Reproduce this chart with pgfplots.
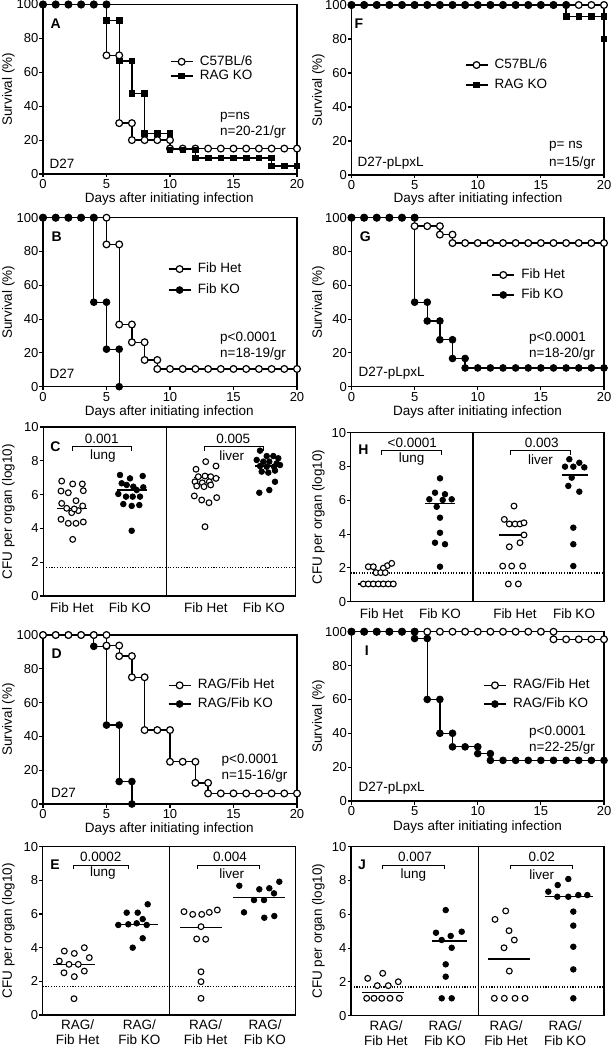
\documentclass[border=0pt]{standalone}
\usepackage{fontspec}
\setmainfont{Liberation Sans}
\usepackage{pgfplots}
\pgfplotsset{compat=1.18}
\newcommand\lab{\fontsize{13.5}{15}\selectfont}
\newcommand\tk{\fontsize{13}{14}\selectfont}
\newcommand\pl{\fontsize{14}{15}\selectfont\bfseries}
\pgfplotsset{
  base/.style={scale only axis, clip=false, anchor=south west,
    axis line style={line width=1.3pt},
    every tick/.style={black, line width=1.1pt},
    tick align=outside, major tick length=3.5pt,
    xtick pos=left, ytick pos=left,
    /pgf/number format/assume math mode=true,
    tick label style={font=\tk},
    yticklabel style={inner sep=1pt},
    xticklabel style={inner sep=2pt},
    legend cell align=left,
    legend style={draw=none, fill=none, inner sep=0pt, outer sep=0pt, font=\lab,
      column sep=6pt, nodes={inner sep=0.5pt, text height=10pt, text depth=3.3pt}},
    legend image code/.code={\draw[##1, mark repeat=2, mark phase=2] plot coordinates {(0pt,0pt) (11pt,0pt) (22pt,0pt)};},
  },
  surv/.style={base, xmin=0, xmax=20, ymin=0, ymax=100,
    xtick={0,5,10,15,20}, ytick={0,20,40,60,80,100}},
  cfu/.style={base, ymin=0, ymax=10, ytick={0,2,4,6,8,10},
    xtick style={draw=none}},
  cfuone/.style={cfu, xticklabel style={font=\lab, inner sep=0pt, text height=10pt, yshift=-3pt}},
  cfutwo/.style={cfu, xticklabel style={font=\fontsize{13.5}{14.5}\selectfont, align=center, inner sep=0pt, yshift=-1.5pt}},
  opn/.style={black, line width=1.3pt, mark=*, mark size=3.4pt, mark options={fill=white, line width=1.2pt}},
  fil/.style={black, line width=1.3pt, mark=*, mark size=3.4pt, mark options={fill=black, line width=0.8pt}},
  sqr/.style={black, line width=1.3pt, mark=square*, mark size=2.8pt, mark options={fill=black, line width=0.8pt}},
  opc/.style={only marks, mark=*, mark size=2.9pt, mark options={fill=white, draw=black, line width=1.1pt}},
  fic/.style={only marks, mark=*, mark size=2.8pt, mark options={fill=black, draw=black, line width=0.8pt}},
  med/.style={black, line width=1.4pt, forget plot},
  lod/.style={black, line width=1.2pt, dash pattern=on 1.1pt off 1.6pt, forget plot},
  divd/.style={black, line width=1.3pt, forget plot},
}
\begin{document}
\begin{tikzpicture}
\useasboundingbox (0pt,0pt) rectangle (611pt,-1048pt);

% ---------------- A ----------------
\begin{axis}[surv, at={(43pt,-174pt)}, width=254pt, height=169.5pt,
  legend style={at={(axis description cs:0.5,0.62)}, anchor=west, row sep=0pt}]
\addplot[opn] coordinates {(0,100)(1,100)(2,100)(3,100)(4,100)(5,100)(5,70)(6,70)(6,30)(7,30)(7,20)(8,20)(9,20)(10,20)(10,15)(11,15)(12,15)(13,15)(14,15)(15,15)(16,15)(17,15)(18,15)(19,15)(20,15)};
\addlegendentry{C57BL/6}
\addplot[sqr, mark repeat=1, mark phase=7] coordinates {(0,100)(1,100)(2,100)(3,100)(4,100)(5,100)(5,90.5)(6,90.5)(6,66.7)(7,66.7)(7,47.6)(8,47.6)(8,23.8)(9,23.8)(10,23.8)(10,14.3)(11,14.3)(12,14.3)(12,9.5)(13,9.5)(14,9.5)(15,9.5)(16,9.5)(17,9.5)(18,9.5)(18,4.8)(19,4.8)(20,4.8)};
\addlegendentry{RAG KO}
\addplot[fil, only marks, forget plot] coordinates {(0,100)(1,100)(2,100)(3,100)(4,100)(5,100)};
\end{axis}

% ---------------- F ----------------
\begin{axis}[surv, at={(351.5pt,-175pt)}, width=252.5pt, height=170pt,
  legend style={at={(axis description cs:0.449,0.588)}, anchor=west, row sep=5.7pt}]
\addplot[opn] coordinates {(0,100)(1,100)(2,100)(3,100)(4,100)(5,100)(6,100)(7,100)(8,100)(9,100)(10,100)(11,100)(12,100)(13,100)(14,100)(15,100)(16,100)(17,100)(18,100)(19,100)(20,100)};
\addlegendentry{C57BL/6}
\addplot[sqr, mark repeat=1, mark phase=19] coordinates {(0,100)(1,100)(2,100)(3,100)(4,100)(5,100)(6,100)(7,100)(8,100)(9,100)(10,100)(11,100)(12,100)(13,100)(14,100)(15,100)(16,100)(17,100)(17,93.3)(18,93.3)(19,93.3)(20,93.3)(20,80)};
\addlegendentry{RAG KO}
\addplot[fil, only marks, forget plot] coordinates {(0,100)(1,100)(2,100)(3,100)(4,100)(5,100)(6,100)(7,100)(8,100)(9,100)(10,100)(11,100)(12,100)(13,100)(14,100)(15,100)(16,100)(17,100)};
\end{axis}

% ---------------- B ----------------
\begin{axis}[surv, at={(43pt,-386.7pt)}, width=254pt, height=169pt,
  legend style={at={(axis description cs:0.492,0.634)}, anchor=west, row sep=6.7pt}]
\addplot[opn] coordinates {(0,100)(1,100)(2,100)(3,100)(4,100)(5,100)(5,84.2)(6,84.2)(6,36.8)(7,36.8)(7,26.3)(8,26.3)(8,15.8)(9,15.8)(9,10.5)(10,10.5)(11,10.5)(12,10.5)(13,10.5)(14,10.5)(15,10.5)(16,10.5)(17,10.5)(18,10.5)(19,10.5)(20,10.5)};
\addlegendentry{Fib Het}
\addplot[fil] coordinates {(0,100)(1,100)(2,100)(3,100)(4,100)(4,50)(5,50)(5,22.2)(6,22.2)(6,0)};
\addlegendentry{Fib KO}
\end{axis}

% ---------------- G ----------------
\begin{axis}[surv, at={(351.5pt,-386.7pt)}, width=252.5pt, height=169pt,
  legend style={at={(axis description cs:0.555,0.602)}, anchor=west, row sep=5.7pt}]
\addplot[opn] coordinates {(0,100)(1,100)(2,100)(3,100)(4,100)(5,100)(5,95)(6,95)(7,95)(7,90)(8,90)(8,85)(9,85)(10,85)(11,85)(12,85)(13,85)(14,85)(15,85)(16,85)(17,85)(18,85)(19,85)(20,85)};
\addlegendentry{Fib Het}
\addplot[fil] coordinates {(0,100)(1,100)(2,100)(3,100)(4,100)(5,100)(5,50)(6,50)(6,38.9)(7,38.9)(7,27.8)(8,27.8)(8,16.7)(9,16.7)(9,11.1)(10,11.1)(11,11.1)(12,11.1)(13,11.1)(14,11.1)(15,11.1)(16,11.1)(17,11.1)(18,11.1)(19,11.1)(20,11.1)};
\addlegendentry{Fib KO}
\end{axis}

% ---------------- D ----------------
\begin{axis}[surv, at={(43pt,-804pt)}, width=254pt, height=169pt, reverse legend,
  legend style={at={(axis description cs:0.492,0.647)}, anchor=west, row sep=4.4pt}]
\addplot[fil] coordinates {(0,100)(1,100)(2,100)(3,100)(4,100)(4,93.3)(5,93.3)(5,46.7)(6,46.7)(6,13.3)(7,13.3)(7,0)};
\addlegendentry{RAG/Fib KO}
\addplot[opn] coordinates {(0,100)(1,100)(2,100)(3,100)(4,100)(5,100)(5,93.75)(6,93.75)(6,87.5)(7,87.5)(7,75)(8,75)(8,43.75)(9,43.75)(10,43.75)(10,25)(11,25)(12,25)(12,12.5)(13,12.5)(13,6.25)(14,6.25)(15,6.25)(16,6.25)(17,6.25)(18,6.25)(19,6.25)(20,6.25)};
\addlegendentry{RAG/Fib Het}
\end{axis}

% ---------------- I ----------------
\begin{axis}[surv, at={(351.5pt,-801pt)}, width=252.5pt, height=169.3pt,
  legend style={at={(axis description cs:0.522,0.628)}, anchor=west, row sep=4.4pt}]
\addplot[opn] coordinates {(0,100)(1,100)(2,100)(3,100)(4,100)(5,100)(6,100)(7,100)(8,100)(9,100)(10,100)(11,100)(12,100)(13,100)(14,100)(15,100)(16,100)(16,95.5)(17,95.5)(18,95.5)(19,95.5)(20,95.5)};
\addlegendentry{RAG/Fib Het}
\addplot[fil] coordinates {(0,100)(1,100)(2,100)(3,100)(4,100)(5,100)(5,96)(6,96)(6,60)(7,60)(7,40)(8,40)(8,32)(9,32)(10,32)(10,28)(11,28)(11,24)(12,24)(13,24)(14,24)(15,24)(16,24)(17,24)(18,24)(19,24)(20,24)};
\addlegendentry{RAG/Fib KO}
\end{axis}

% ---------------- C ----------------
\begin{axis}[cfuone, at={(43.3pt,-596pt)}, width=252.4pt, height=169pt, xmin=0, xmax=252.4,
  xtick={28.7,86.7,162.7,220.7}, xticklabels={Fib Het,Fib KO,Fib Het,Fib KO}]
\addplot[lod] coordinates {(0,1.7)(252.4,1.7)};
\addplot[divd] coordinates {(123.4,0)(123.4,10)};
\addplot[med] coordinates {(13.4,5.19)(43.4,5.19)};
\addplot[med] coordinates {(73.4,6.27)(103.4,6.27)};
\addplot[med] coordinates {(150.7,7.0)(176.7,7.0)};
\addplot[med] coordinates {(211.7,7.69)(236.7,7.69)};
\addplot[opc] coordinates {(18.4,6.80)(29.4,6.63)(39.0,6.63)(17.7,6.21)(25.0,6.11)(40.0,6.23)(32.7,5.64)(18.4,5.48)(39.4,5.33)(23.4,5.19)(28.4,4.93)(35.0,5.05)(17.7,4.54)(25.0,4.30)(32.7,4.30)(40.0,4.38)(29.4,3.35)(31.0,5.15)};
\addplot[fic] coordinates {(76.7,7.16)(86.7,6.96)(99.4,7.10)(78.4,6.67)(83.4,6.57)(90.0,6.47)(93.4,6.27)(100.0,6.43)(75.0,6.04)(82.7,5.88)(89.4,5.88)(96.7,5.88)(80.0,5.44)(88.4,5.33)(96.0,5.38)(88.4,3.86)};
\addplot[opc] coordinates {(152.7,7.50)(162.4,7.95)(172.7,7.69)(155.0,7.06)(161.7,7.10)(167.4,7.06)(172.7,6.96)(151.7,6.76)(159.0,6.70)(166.0,6.76)(153.4,6.51)(160.7,6.47)(167.4,6.57)(151.0,5.92)(158.4,5.68)(165.7,5.52)(173.4,5.82)(161.7,4.10)};
\addplot[fic] coordinates {(216.7,8.60)(223.4,8.28)(230.0,8.28)(235.0,8.15)(213.4,8.05)(220.0,7.95)(226.0,7.95)(233.4,7.85)(216.7,7.69)(223.4,7.65)(230.7,7.65)(236.7,7.75)(218.4,7.36)(225.0,7.30)(231.7,7.42)(216.0,6.11)(226.0,6.27)(231.7,6.76)};
\end{axis}

% ---------------- H ----------------
\begin{axis}[cfuone, at={(350.7pt,-601.7pt)}, width=253.3pt, height=169pt, xmin=0, xmax=253.3,
  xtick={31,89.3,164.3,223.3}, xticklabels={Fib Het,Fib KO,Fib Het,Fib KO}]
\addplot[lod] coordinates {(0,1.7)(253.3,1.7)};
\addplot[divd] coordinates {(122.3,0)(122.3,10)};
\addplot[med] coordinates {(7.6,1.05)(44.3,1.05)};
\addplot[med] coordinates {(74.3,5.82)(104.3,5.82)};
\addplot[med] coordinates {(148.6,3.95)(176.0,3.95)};
\addplot[med] coordinates {(211.0,7.5)(237.6,7.5)};
\addplot[opc] coordinates {(17.6,2.07)(22.6,2.07)(36.6,2.13)(41.0,2.27)(32.6,1.98)(25.3,1.72)(30.0,1.72)(34.6,1.72)(12.6,1.05)(17.6,1.05)(22.6,1.05)(27.6,1.05)(32.6,1.05)(37.6,1.05)(42.6,1.05)};
\addplot[fic] coordinates {(89.3,7.30)(84.3,6.45)(78.6,6.06)(94.3,6.36)(101.0,6.06)(92.0,6.02)(86.0,5.62)(89.3,4.97)(89.3,4.08)(84.3,3.49)(94.3,3.40)(89.3,2.07)};
\addplot[opc] coordinates {(163.3,5.66)(153.6,4.87)(158.6,4.60)(164.3,4.60)(169.3,4.60)(173.3,4.67)(173.3,3.95)(169.3,3.49)(158.6,3.25)(152.0,2.11)(161.0,2.11)(172.0,2.11)(157.6,1.05)(167.6,1.05)};
\addplot[fic] coordinates {(218.6,8.43)(214.3,7.99)(222.6,7.99)(228.6,8.22)(233.6,7.95)(221.0,7.34)(217.6,6.85)(228.6,6.51)(222.6,4.38)(222.6,3.40)(222.6,2.11)};
\end{axis}

% ---------------- E ----------------
\begin{axis}[cfutwo, at={(42.7pt,-1015pt)}, width=253pt, height=168.3pt, xmin=0, xmax=253,
  xtick={35,96.6,163,222.3}, xticklabels={{RAG/\\Fib Het},{RAG/\\Fib KO},{RAG/\\Fib Het},{RAG/\\Fib KO}}]
\addplot[lod] coordinates {(0,1.7)(253,1.7)};
\addplot[divd] coordinates {(126.6,0)(126.6,10)};
\addplot[med] coordinates {(10.6,3.01)(52.3,3.01)};
\addplot[med] coordinates {(72.3,5.39)(115.6,5.39)};
\addplot[med] coordinates {(137.3,5.21)(179.0,5.21)};
\addplot[med] coordinates {(190.6,6.97)(242.3,6.97)};
\addplot[opc] coordinates {(21.6,3.80)(31.6,3.66)(41.6,4.00)(16.6,3.21)(26.3,3.01)(35.6,3.01)(46.6,3.41)(21.3,2.51)(31.6,2.28)(41.6,2.61)(31.3,0.97)};
\addplot[fic] coordinates {(84,6.08)(95,6.08)(105,6.58)(100,5.70)(75.6,5.35)(85.6,5.39)(94,5.45)(104,5.35)(100,4.56)(90,4.00)};
\addplot[opc] coordinates {(141.3,6.14)(150,5.98)(159,5.98)(166.6,6.10)(174.6,6.24)(158.3,5.25)(154,4.52)(163,4.50)(158.3,2.57)(158.3,1.98)(158.3,0.99)};
\addplot[fic] coordinates {(196.6,7.68)(216.6,7.47)(226.6,7.53)(236.6,7.92)(211.3,6.83)(231.3,7.23)(201.3,6.10)(221.6,5.78)(231.6,5.88)(221.3,6.83)};
\end{axis}

% ---------------- J ----------------
\begin{axis}[cfutwo, at={(351pt,-1015.7pt)}, width=253pt, height=169pt, xmin=0, xmax=253,
  xtick={35,94,155,214}, xticklabels={{RAG/\\Fib Het},{RAG/\\Fib KO},{RAG/\\Fib Het},{RAG/\\Fib KO}}]
\addplot[lod] coordinates {(0,1.7)(253,1.7)};
\addplot[divd] coordinates {(127.3,0)(127.3,10)};
\addplot[med] coordinates {(10.7,1.38)(53,1.38)};
\addplot[med] coordinates {(80.7,4.41)(115.7,4.41)};
\addplot[med] coordinates {(137.3,3.35)(179,3.35)};
\addplot[med] coordinates {(194,7.04)(242.3,7.04)};
\addplot[opc] coordinates {(16.7,2.21)(31.7,2.51)(26.3,1.78)(37.3,1.78)(47.3,2.01)(15.7,1.03)(23,1.03)(30.7,1.03)(39,1.03)(48.3,1.03)};
\addplot[fic] coordinates {(94.7,6.25)(85,4.91)(110.7,4.97)(99.7,4.72)(90.7,4.48)(100.7,4.02)(94.7,3.04)(94.7,2.31)(90.7,1.03)(100.7,1.03)};
\addplot[opc] coordinates {(154.7,6.20)(144,5.70)(158,5.03)(163.3,4.48)(153,4.02)(158.3,2.64)(143.3,1.03)(153.3,1.03)(164,1.03)(174,1.03)};
\addplot[fic] coordinates {(217.3,8.09)(206.7,7.73)(197.3,7.34)(206.3,7.04)(217.3,7.04)(227.3,7.14)(236.3,7.14)(222.3,6.16)(222.3,5.33)(222.3,4.08)(222.3,2.74)(222.3,1.03)};
\end{axis}

% ---------- axis titles ----------
\begin{scope}[every node/.style={font=\lab, inner sep=0pt}]
\node[rotate=90] at (8.3pt,-89.3pt) {Survival (\%)};
\node[rotate=90] at (318.3pt,-90pt) {Survival (\%)};
\node[rotate=90] at (8.3pt,-302.2pt) {Survival (\%)};
\node[rotate=90] at (318.3pt,-302.2pt) {Survival (\%)};
\node[rotate=90] at (8.3pt,-719.5pt) {Survival (\%)};
\node[rotate=90] at (318.3pt,-716.3pt) {Survival (\%)};
\node[rotate=90] at (8.3pt,-511.5pt) {CFU per organ (log10)};
\node[rotate=90] at (318.3pt,-517.2pt) {CFU per organ (log10)};
\node[rotate=90] at (8.3pt,-930.8pt) {CFU per organ (log10)};
\node[rotate=90] at (318.3pt,-931.2pt) {CFU per organ (log10)};
\node at (169.2pt,-199.5pt) {Days after initiating infection};
\node at (478pt,-199pt) {Days after initiating infection};
\node at (169.2pt,-412.5pt) {Days after initiating infection};
\node at (477.5pt,-412.5pt) {Days after initiating infection};
\node at (169.2pt,-829.5pt) {Days after initiating infection};
\node at (477.5pt,-827pt) {Days after initiating infection};
% annotations survival
\node[anchor=west] at (220pt,-117.3pt) {p=ns};
\node[anchor=west] at (220pt,-131.7pt) {n=20-21/gr};
\node[anchor=west] at (49.5pt,-163.3pt) {D27};
\node[anchor=west] at (549pt,-146.7pt) {p= ns};
\node[anchor=west] at (549pt,-163.3pt) {n=15/gr};
\node[anchor=west] at (357.5pt,-163.3pt) {D27-pLpxL};
\node[anchor=west] at (220pt,-337.7pt) {p<0.0001};
\node[anchor=west] at (220pt,-354.5pt) {n=18-19/gr};
\node[anchor=west] at (49.5pt,-374pt) {D27};
\node[anchor=west] at (529pt,-337.7pt) {p<0.0001};
\node[anchor=west] at (529pt,-354.3pt) {n=18-20/gr};
\node[anchor=west] at (358.5pt,-373.3pt) {D27-pLpxL};
\node[anchor=west] at (221.5pt,-760pt) {p<0.0001};
\node[anchor=west] at (221.5pt,-775.7pt) {n=15-16/gr};
\node[anchor=west] at (51pt,-792.3pt) {D27};
\node[anchor=west] at (529pt,-731.7pt) {p<0.0001};
\node[anchor=west] at (529pt,-748.3pt) {n=22-25/gr};
\node[anchor=west] at (358.5pt,-787.7pt) {D27-pLpxL};
% CFU annotations
\node at (101.7pt,-438.7pt) {0.001};
\node at (103pt,-456pt) {lung};
\node at (233.3pt,-438.7pt) {0.005};
\node at (231.7pt,-456pt) {liver};
\node at (412.3pt,-442.7pt) {<0.0001};
\node at (411.7pt,-459.3pt) {lung};
\node at (541.7pt,-442.7pt) {0.003};
\node at (540.6pt,-459.5pt) {liver};
\node at (100.8pt,-856.7pt) {0.0002};
\node at (103pt,-873.3pt) {lung};
\node at (230pt,-856.7pt) {0.004};
\node at (231.7pt,-873.3pt) {liver};
\node at (415pt,-857.3pt) {0.007};
\node at (413.3pt,-875pt) {lung};
\node at (541.7pt,-857.3pt) {0.02};
\node at (541.7pt,-875pt) {liver};
\end{scope}
% brackets
\begin{scope}[line width=0.9pt]
\draw (72.7pt,-450.7pt) -- (72.7pt,-446.7pt) -- (131pt,-446.7pt) -- (131pt,-450.7pt);
\draw (204pt,-450.7pt) -- (204pt,-446.7pt) -- (263.3pt,-446.7pt) -- (263.3pt,-450.7pt);
\draw (381.7pt,-454.7pt) -- (381.7pt,-450.7pt) -- (441.7pt,-450.7pt) -- (441.7pt,-454.7pt);
\draw (510.7pt,-454.7pt) -- (510.7pt,-450.7pt) -- (570.7pt,-450.7pt) -- (570.7pt,-454.7pt);
\draw (73.3pt,-869pt) -- (73.3pt,-865pt) -- (128.3pt,-865pt) -- (128.3pt,-869pt);
\draw (197.3pt,-869pt) -- (197.3pt,-865pt) -- (259.3pt,-865pt) -- (259.3pt,-869pt);
\draw (382.7pt,-869pt) -- (382.7pt,-865pt) -- (444pt,-865pt) -- (444pt,-869pt);
\draw (510.7pt,-869pt) -- (510.7pt,-865pt) -- (572.7pt,-865pt) -- (572.7pt,-869pt);
\end{scope}
% panel letters
\begin{scope}[every node/.style={font=\pl}]
\node at (55.8pt,-23.8pt) {A};
\node at (359pt,-24pt) {F};
\node at (56.7pt,-236.7pt) {B};
\node at (365.3pt,-236.7pt) {G};
\node at (55.5pt,-446.7pt) {C};
\node at (363.3pt,-450pt) {H};
\node at (56.7pt,-654pt) {D};
\node at (366.7pt,-650.7pt) {I};
\node at (55pt,-865pt) {E};
\node at (362pt,-865pt) {J};
\end{scope}
\end{tikzpicture}
\end{document}
